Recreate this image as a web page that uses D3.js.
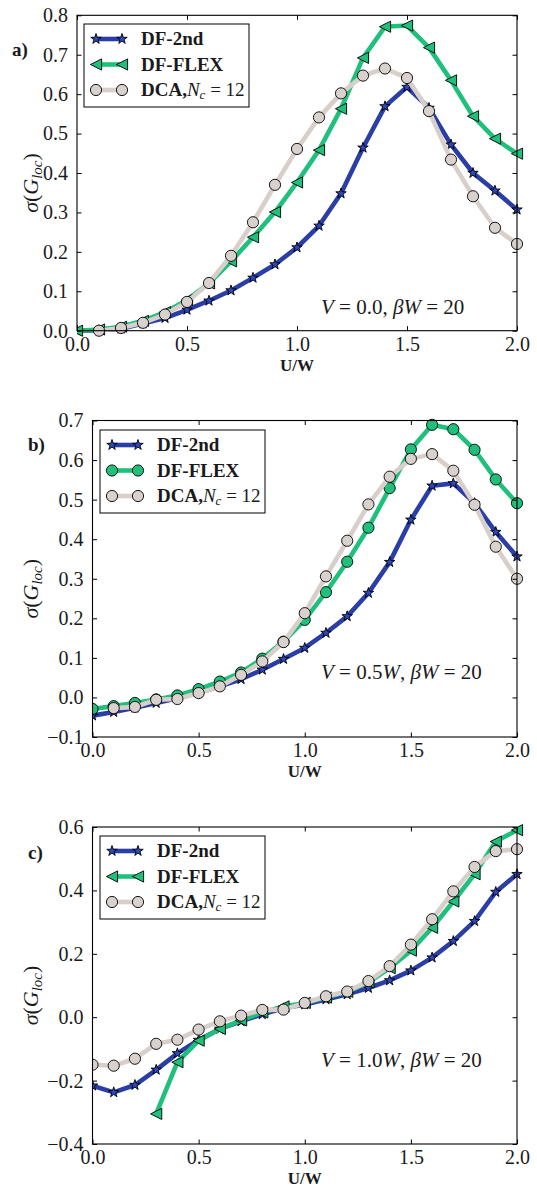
<!DOCTYPE html>
<html>
<head>
<meta charset="utf-8">
<script src="https://cdn.jsdelivr.net/npm/d3@7"></script>
<style>
  html, body { margin: 0; padding: 0; background: #fff; }
  svg { display: block; }
  text { font-family: "Liberation Serif", "DejaVu Serif", serif; fill: #1a1a1a; }
</style>
</head>
<body>
<svg id="fig" width="537" height="1188"></svg>
<script>
// Interaction strength U/W (x grid shared by all panels)
const uGrid = [0.0, 0.1, 0.2, 0.3, 0.4, 0.5, 0.6, 0.7, 0.8, 0.9, 1.0,
               1.1, 1.2, 1.3, 1.4, 1.5, 1.6, 1.7, 1.8, 1.9, 2.0];
const xTicks = [0.0, 0.5, 1.0, 1.5, 2.0];

// Panel a) V = 0.0
const aDF2nd = [0.000, 0.001, 0.005, 0.018, 0.032, 0.053, 0.076, 0.102, 0.134, 0.168, 0.211,
                0.266, 0.348, 0.464, 0.569, 0.618, 0.565, 0.472, 0.400, 0.355, 0.307];
const aFLEX  = [0.000, 0.003, 0.010, 0.025, 0.047, 0.078, 0.120, 0.176, 0.237, 0.301, 0.376,
                0.458, 0.563, 0.692, 0.771, 0.774, 0.718, 0.635, 0.544, 0.487, 0.449];
const aDCA   = [null, 0.000, 0.007, 0.020, 0.041, 0.073, 0.121, 0.190, 0.275, 0.370, 0.461,
                0.541, 0.602, 0.647, 0.665, 0.641, 0.557, 0.434, 0.341, 0.261, 0.220];
const aTicks = [0.0, 0.1, 0.2, 0.3, 0.4, 0.5, 0.6, 0.7, 0.8];

// Panel b) V = 0.5W
const bDF2nd = [-0.046, -0.037, -0.026, -0.014, -0.002, 0.012, 0.028, 0.046, 0.070, 0.097, 0.125,
                0.163, 0.205, 0.264, 0.342, 0.449, 0.535, 0.541, 0.491, 0.418, 0.356];
const bFLEX  = [-0.029, -0.022, -0.014, -0.005, 0.005, 0.021, 0.040, 0.063, 0.098, 0.141, 0.196,
                0.266, 0.343, 0.429, 0.529, 0.627, 0.689, 0.678, 0.626, 0.551, 0.491];
const bDCA   = [null, -0.027, -0.024, -0.006, -0.004, 0.011, 0.028, 0.057, 0.091, 0.140, 0.213,
                0.306, 0.396, 0.488, 0.558, 0.603, 0.615, 0.573, 0.487, 0.381, 0.300];
const bTicks = [-0.1, 0.0, 0.1, 0.2, 0.3, 0.4, 0.5, 0.6, 0.7];

// Panel c) V = 1.0W
const cDF2nd = [-0.216, -0.237, -0.214, -0.166, -0.114, -0.072, -0.037, -0.013, 0.009, 0.028, 0.040,
                0.056, 0.072, 0.092, 0.116, 0.147, 0.188, 0.240, 0.303, 0.395, 0.451];
const cFLEX  = [null, null, null, -0.305, -0.142, -0.074, -0.037, -0.010, 0.015, 0.034, 0.045,
                0.062, 0.080, 0.110, 0.155, 0.210, 0.282, 0.365, 0.451, 0.554, 0.590];
const cDCA   = [-0.150, -0.153, -0.131, -0.084, -0.071, -0.039, -0.013, 0.005, 0.023, 0.024, 0.045,
                0.066, 0.081, 0.114, 0.161, 0.229, 0.309, 0.397, 0.474, 0.524, 0.530];
const cTicks = [-0.4, -0.2, 0.0, 0.2, 0.4, 0.6];

const colors = { df2: "#2b3ea6", flex: "#1fbf7c", dca: "#d8cfcb" };
const fills  = { df2: "#2f49bd", flex: "#20bf7c", dca: "#d9d1cd" };

const panels = [
  { tag: "a)", left: 77,  right: 517, top: 15.3, bottom: 330.7, domain: [0.0, 0.8], ticks: aTicks,
    series: [aDF2nd, aFLEX, aDCA], flexMarker: "tri", vText: "0.0", vUnit: "",
    tagPos: [12, 56], legendTop: 24, legendLeft: 84, annY: 314 },
  { tag: "b)", left: 92.5, right: 517, top: 420.5, bottom: 737, domain: [-0.1, 0.7], ticks: bTicks,
    series: [bDF2nd, bFLEX, bDCA], flexMarker: "circle", vText: "0.5", vUnit: "W",
    tagPos: [28, 451], legendTop: 430, legendLeft: 100, annY: 679 },
  { tag: "c)", left: 92.5, right: 517, top: 827, bottom: 1144, domain: [-0.4, 0.6], ticks: cTicks,
    series: [cDF2nd, cFLEX, cDCA], flexMarker: "tri", vText: "1.0", vUnit: "W",
    tagPos: [28, 859], legendTop: 836, legendLeft: 100, annY: 1067 }
];

const svg = d3.select("#fig");
const fmt = v => (v < 0 ? "\u2212" : "") + Math.abs(v).toFixed(1);

function drawMarker(g, kind, key, x, y) {
  if (kind === "star") {
    g.append("path")
      .attr("d", d3.symbol(d3.symbolStar, 34)())
      .attr("transform", `translate(${x},${y})`)
      .attr("fill", fills[key]).attr("stroke", "#000").attr("stroke-width", 0.9);
  } else if (kind === "tri") {
    const r = 5.6;
    g.append("path")
      .attr("d", `M${-r},0L${r},${-r}L${r},${r}Z`)
      .attr("transform", `translate(${x},${y})`)
      .attr("fill", fills[key]).attr("stroke", "#000").attr("stroke-width", 0.9);
  } else {
    g.append("circle").attr("cx", x).attr("cy", y).attr("r", 5.6)
      .attr("fill", fills[key]).attr("stroke", "#000").attr("stroke-width", 0.9);
  }
}

panels.forEach(p => {
  const x = d3.scaleLinear().domain([0, 2]).range([p.left, p.right]);
  const y = d3.scaleLinear().domain(p.domain).range([p.bottom, p.top]);
  const g = svg.append("g");

  const clipId = "clip" + p.tag[0];
  svg.append("clipPath").attr("id", clipId).append("rect")
    .attr("x", p.left).attr("y", p.top - 8)
    .attr("width", p.right - p.left + 8).attr("height", p.bottom - p.top + 16);

  // data series: DF-2nd, DF-FLEX, DCA
  const keys = ["df2", "flex", "dca"];
  const markers = ["star", p.flexMarker, "circle"];
  const plot = g.append("g").attr("clip-path", `url(#${clipId})`);
  p.series.forEach((vals, i) => {
    const pts = uGrid.map((u, j) => [u, vals[j]]).filter(d => d[1] !== null);
    const line = d3.line().x(d => x(d[0])).y(d => y(d[1]));
    plot.append("path").attr("d", line(pts))
      .attr("fill", "none").attr("stroke", colors[keys[i]])
      .attr("stroke-width", 4.6).attr("stroke-linejoin", "round");
    pts.forEach(d => drawMarker(plot, markers[i], keys[i], x(d[0]), y(d[1])));
  });

  // axes with inward ticks on all four sides
  const tickLen = 4.5;
  g.append("g").attr("transform", `translate(0,${p.bottom})`)
    .call(d3.axisBottom(x).tickValues(xTicks).tickSizeInner(-tickLen).tickSizeOuter(0).tickPadding(6).tickFormat(fmt))
    .call(a => a.select(".domain").remove());
  g.append("g").attr("transform", `translate(0,${p.top})`)
    .call(d3.axisTop(x).tickValues(xTicks).tickSizeInner(-tickLen).tickSizeOuter(0).tickFormat(""))
    .call(a => a.select(".domain").remove());
  g.append("g").attr("transform", `translate(${p.left},0)`)
    .call(d3.axisLeft(y).tickValues(p.ticks).tickSizeInner(-tickLen).tickSizeOuter(0).tickPadding(9).tickFormat(fmt))
    .call(a => a.select(".domain").remove());
  g.append("g").attr("transform", `translate(${p.right},0)`)
    .call(d3.axisRight(y).tickValues(p.ticks).tickSizeInner(-tickLen).tickSizeOuter(0).tickFormat(""))
    .call(a => a.select(".domain").remove());
  g.selectAll(".tick line").attr("stroke", "#000").attr("stroke-width", 1);
  g.selectAll(".tick text").attr("font-size", 20).attr("fill", "#222")
    .style("font-family", "'Liberation Serif', serif");

  g.append("rect").attr("x", p.left).attr("y", p.top)
    .attr("width", p.right - p.left).attr("height", p.bottom - p.top)
    .attr("fill", "none").attr("stroke", "#000").attr("stroke-width", 1.1);

  // x label
  g.append("text").attr("x", (p.left + p.right) / 2).attr("y", p.bottom + 40)
    .attr("text-anchor", "middle").attr("font-size", 17).attr("font-weight", "bold").text("U/W");

  // y label: sigma(G_loc)
  const yl = g.append("text")
    .attr("transform", `translate(38,${(p.top + p.bottom) / 2 + 10}) rotate(-90)`)
    .attr("text-anchor", "middle").attr("font-size", 22);
  yl.append("tspan").attr("font-style", "italic").text("\u03c3");
  yl.append("tspan").text("(");
  yl.append("tspan").attr("font-style", "italic").text("G");
  yl.append("tspan").attr("font-style", "italic").attr("font-size", 15).attr("dy", 4).text("loc");
  yl.append("tspan").attr("dy", -4).text(")");

  // panel tag
  g.append("text").attr("x", p.tagPos[0]).attr("y", p.tagPos[1])
    .attr("font-size", 19).attr("font-weight", "bold").text(p.tag);

  // parameter annotation
  const ann = g.append("text").attr("x", 321).attr("y", p.annY).attr("font-size", 21);
  ann.append("tspan").attr("font-style", "italic").text("V");
  ann.append("tspan").text(" = " + p.vText);
  if (p.vUnit) ann.append("tspan").attr("font-style", "italic").text(p.vUnit);
  ann.append("tspan").text(", ");
  ann.append("tspan").attr("font-style", "italic").text("\u03b2W");
  ann.append("tspan").text(" = 20");

  // legend
  const lg = g.append("g");
  const lw = 165, lh = 83;
  lg.append("rect").attr("x", p.legendLeft).attr("y", p.legendTop)
    .attr("width", lw).attr("height", lh)
    .attr("fill", "#fff").attr("stroke", "#000").attr("stroke-width", 1);
  const labels = ["DF-2nd", "DF-FLEX", "DCA,"];
  labels.forEach((lab, i) => {
    const ry = p.legendTop + 15 + i * 25.5;
    const x0 = p.legendLeft + 12, x1 = p.legendLeft + 38;
    lg.append("line").attr("x1", x0).attr("x2", x1).attr("y1", ry).attr("y2", ry)
      .attr("stroke", colors[keys[i]]).attr("stroke-width", 4.6);
    drawMarker(lg, markers[i], keys[i], x0, ry);
    drawMarker(lg, markers[i], keys[i], x1, ry);
    const t = lg.append("text").attr("x", p.legendLeft + 57).attr("y", ry + 6)
      .attr("font-size", 19);
    t.append("tspan").attr("font-weight", "bold").text(lab);
    if (i === 2) {
      t.append("tspan").attr("font-style", "italic").text("N");
      t.append("tspan").attr("font-style", "italic").attr("font-size", 13).attr("dy", 3).text("c");
      t.append("tspan").attr("dy", -3).text(" = 12");
    }
  });
});
</script>
</body>
</html>
